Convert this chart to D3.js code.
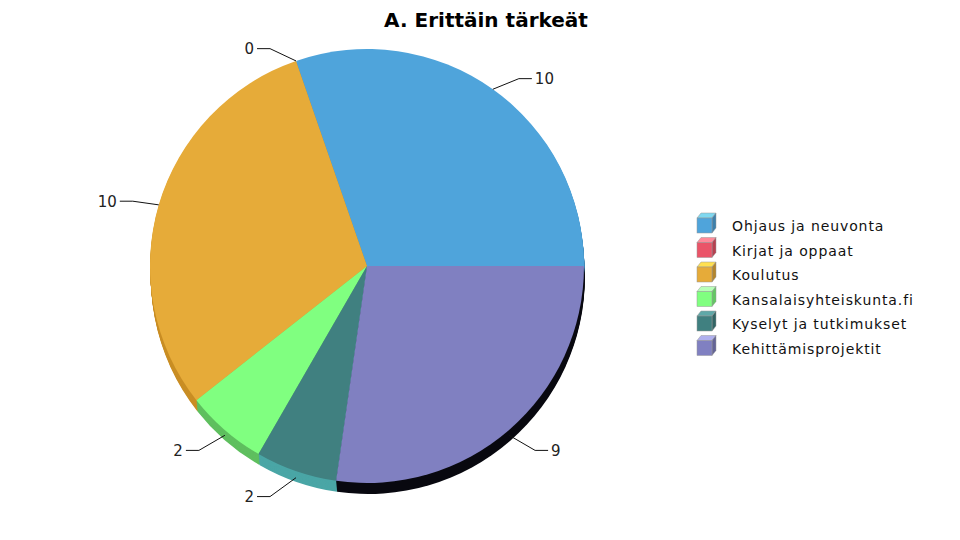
<!DOCTYPE html>
<html>
<head>
<meta charset="utf-8">
<script src="https://cdn.jsdelivr.net/npm/d3@7"></script>
<style>
  body { margin: 0; background: #fff; }
  text { font-family: "DejaVu Sans", sans-serif; }
</style>
</head>
<body>
<svg id="chart" width="960" height="540"></svg>
<script>
// data
const categories = ['Ohjaus ja neuvonta', 'Kirjat ja oppaat', 'Koulutus', 'Kansalaisyhteiskunta.fi', 'Kyselyt ja tutkimukset', 'Kehittämisprojektit'];
const values = [10, 0, 10, 2, 2, 9];
const colors = ['#4fa4db', '#ea5468', '#e6ab39', '#80ff80', '#408080', '#8080c1'];
const sideColors = ['#3f86b4', '#b83f50', '#c98e25', '#5fbf5f', '#4aa6a6', 'url(#purpleSide)'];
const topColors = ['#7fd8f0', '#ff8a9a', '#ffe050', '#b8ffb8', '#5fa8a8', '#b0b0ee'];
const title = 'A. Erittäin tärkeät';

const svg = d3.select('#chart');
const cx = 367, cy = 266, r = 217, depth = 11;

const defs = svg.append('defs');
const g1 = defs.append('linearGradient').attr('id', 'purpleSide')
  .attr('gradientUnits', 'userSpaceOnUse').attr('x1', 330).attr('x2', 590).attr('y1', 0).attr('y2', 0);
g1.append('stop').attr('offset', 0).attr('stop-color', '#08080f');
g1.append('stop').attr('offset', 0.45).attr('stop-color', '#24243c');
g1.append('stop').attr('offset', 1).attr('stop-color', '#5a5a96');

svg.append('text')
  .attr('x', 486).attr('y', 27)
  .attr('text-anchor', 'middle')
  .style('font-size', '20px').style('font-weight', 'bold')
  .text(title);

// counterclockwise from 3 o'clock
const pie = d3.pie().sort(null).value(d => d)
  .startAngle(Math.PI / 2).endAngle(Math.PI / 2 - 2 * Math.PI);
const arcs = pie(values);
const arc = d3.arc().innerRadius(0).outerRadius(r);

const pieG = svg.append('g').attr('transform', `translate(${cx},${cy})`);

// side wall: stacked copies
for (let d = depth; d >= 1; d--) {
  pieG.append('g').attr('transform', `translate(${d * 0.08},${d})`)
    .selectAll('path').data(arcs.filter(a => a.value > 0)).join('path')
    .attr('d', arc)
    .attr('fill', a => sideColors[a.index]);
}

pieG.append('g').selectAll('path').data(arcs.filter(a => a.value > 0)).join('path')
  .attr('d', arc)
  .attr('fill', a => colors[a.index]);

// labels with leader lines
const labG = pieG.append('g');
arcs.forEach(a => {
  const mid = (a.startAngle + a.endAngle) / 2;
  const sx = Math.sin(mid), sy = -Math.cos(mid);
  const dir = sx >= 0 ? 1 : -1;
  const off = 7 * Math.max(0, sy);
  const p0 = [sx * r, sy * r + off];
  const p1 = [p0[0] + dir * 26, p0[1] + sy * (sy > 0 ? 20 : 13)];
  const p2 = [p1[0] + dir * 13, p1[1]];
  labG.append('path')
    .attr('d', d3.line()([p0, p1, p2]))
    .attr('fill', 'none').attr('stroke', '#111').attr('stroke-width', 1);
  labG.append('text')
    .attr('x', p2[0] + dir * 3).attr('y', p2[1] + 5.5)
    .attr('text-anchor', dir > 0 ? 'start' : 'end')
    .style('font-size', '15px').attr('fill', '#222')
    .text(a.value);
});

// legend
const leg = svg.append('g').attr('transform', 'translate(697,213)');
const rows = leg.selectAll('g').data(categories).join('g')
  .attr('transform', (d, i) => `translate(0,${i * 24.5})`);
rows.append('path')
  .attr('d', 'M0,5 L4,0 L19,0 L15,5 Z')
  .attr('fill', (d, i) => topColors[i]).attr('stroke', '#999').attr('stroke-width', 0.5);
rows.append('path')
  .attr('d', 'M15,5 L19,0 L19,15 L15,20 Z')
  .attr('fill', (d, i) => d3.color(colors[i]).darker(0.7)).attr('stroke', '#999').attr('stroke-width', 0.5);
rows.append('rect')
  .attr('x', 0).attr('y', 5).attr('width', 15).attr('height', 15)
  .attr('fill', (d, i) => colors[i]).attr('stroke', '#999').attr('stroke-width', 0.5);
rows.append('text')
  .attr('x', 35).attr('y', 18)
  .style('font-size', '14px').style('letter-spacing', '0.9px').attr('fill', '#111')
  .text(d => d);
</script>
</body>
</html>
